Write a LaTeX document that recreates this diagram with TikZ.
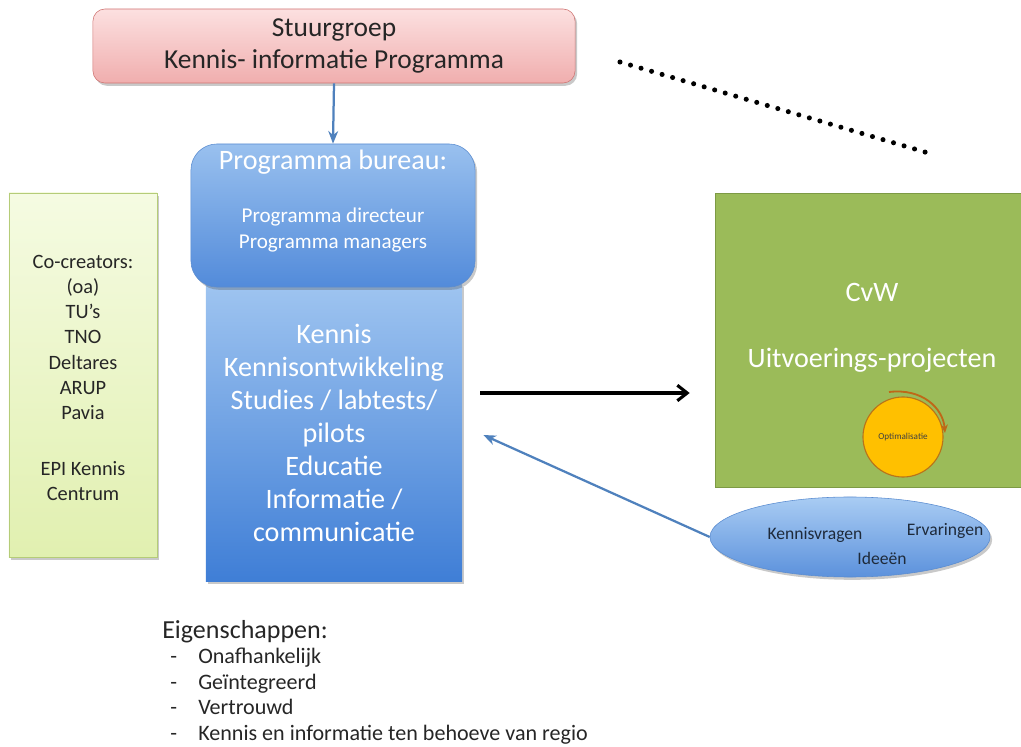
\documentclass[tikz,border=0pt]{standalone}
\usepackage{fontspec}
\setmainfont{Carlito}
\usetikzlibrary{arrows.meta, positioning, shadows, shapes.geometric}

\definecolor{stuurrand}{HTML}{CF7472}
\definecolor{stuurtop}{HTML}{FCE0E0}
\definecolor{stuurbot}{HTML}{F0AEAE}
\definecolor{blauwrand}{HTML}{5A8CD0}
\definecolor{blauwtop}{HTML}{A9CCF3}
\definecolor{blauwbot}{HTML}{3F7ED6}
\definecolor{groenrand}{HTML}{B5CC78}
\definecolor{groentop}{HTML}{F5FBE2}
\definecolor{groenbot}{HTML}{E1F0B0}
\definecolor{cvwgroen}{HTML}{9BBB59}
\definecolor{cvwrand}{HTML}{7D9A45}
\definecolor{optgeel}{HTML}{FFC000}
\definecolor{optrand}{HTML}{B8741A}
\definecolor{pijlblauw}{HTML}{4F81BD}
\definecolor{tekstdonker}{HTML}{1E2A3A}

\tikzset{
  softshadow/.style={drop shadow={shadow xshift=1.5pt, shadow yshift=-2pt, opacity=0.3, fill=black!70}},
  stuurbox/.style={draw=stuurrand, rounded corners=0.3cm, top color=stuurtop, bottom color=stuurbot,
    minimum width=12.05cm, minimum height=1.85cm, align=center, text=black!85,
    font=\fontsize{19.5}{22.5}\selectfont, softshadow},
  bureaubox/.style={draw=blauwrand, rounded corners=0.65cm, top color=blauwtop!85!blauwbot, bottom color=blauwbot!90!white,
    minimum width=7.1cm, minimum height=3.575cm, softshadow},
  kennisbox/.style={draw=none, top color=blauwtop!90!blauwbot, bottom color=blauwbot, minimum width=6.4cm,
    minimum height=7.425cm, align=center, text=white, font=\fontsize{20}{23.5}\selectfont, softshadow},
  cocreatorbox/.style={draw=groenrand, top color=groentop, bottom color=groenbot, minimum width=3.7cm,
    minimum height=9.1cm, align=center, text=black!85, font=\fontsize{14.5}{17.9}\selectfont, softshadow},
  cvwbox/.style={draw=cvwrand, fill=cvwgroen, minimum width=7.75cm, minimum height=7.35cm},
  vragenellipse/.style={ellipse, draw=blauwrand, top color=blauwtop, bottom color=blauwbot!85!white,
    minimum width=7cm, minimum height=2cm, inner sep=0pt, softshadow},
  optcircle/.style={circle, draw=optrand, thick, fill=optgeel, minimum size=2cm, inner sep=0pt,
    font=\fontsize{6.5}{7}\selectfont, text=black!75},
  whitetext/.style={text=white},
  darktext/.style={text=tekstdonker, font=\fontsize{12.5}{14}\selectfont},
  bluearrow/.style={draw=pijlblauw, line width=1.6pt, -{Stealth[length=9pt, width=7pt]}},
  mainarrow/.style={draw=black, line width=2.2pt, -{Straight Barb[length=7pt, width=11pt, line width=2.2pt]}},
  dotline/.style={line width=3.6pt, line cap=round, dash pattern=on 0pt off 7.8pt},
}

\begin{document}
\begin{tikzpicture}[x=0.025cm, y=-0.025cm]
\useasboundingbox (0,0) rectangle (1021,747);

% Stuurgroep bovenaan
\node[stuurbox] (stuur) at (334,46) {Stuurgroep\\Kennis- informatie Programma};

% Kennis blok en programma bureau
\node[kennisbox] (kennis) at (334,433) {Kennis\\Kennisontwikkeling\\Studies / labtests/\\pilots\\Educatie\\Informatie /\\communicatie};
\node[bureaubox] (bureau) at (333,215.5) {};
\node[whitetext, font=\fontsize{20}{23}\selectfont] (bureautitel) at (333,162) {Programma bureau:};
\node[whitetext, align=center, font=\fontsize{15}{18.5}\selectfont] (bureauleden) at (333,230) {Programma directeur\\Programma managers};

% Co-creators links
\node[cocreatorbox] (cocreators) at (83,375) {};
\node[align=center, text=black!85, font=\fontsize{14.5}{17.9}\selectfont] (cocreatortekst) at (83,378) {Co-creators:\\(oa)\\TU's\\TNO\\Deltares\\ARUP\\Pavia\\[22pt]EPI Kennis\\Centrum};

% CvW rechts
\node[cvwbox] (cvw) at (870,340) {};
\node[whitetext, font=\fontsize{20}{23}\selectfont] (cvwnaam) at (872,292) {CvW};
\node[whitetext, font=\fontsize{20}{23}\selectfont] (uitvoering) at (872,360) {Uitvoerings-projecten};
\node[optcircle] (opt) at (903,437) {Optimalisatie};
\coordinate (optstart) at (889,392);
\coordinate (optend) at (945,433);
\draw[draw=optrand!90!red, line width=1.3pt, -{Stealth[length=6pt, width=5pt]}] (optstart) .. controls (922,388) and (943,408) .. (optend);

% Ellips met kennisvragen
\node[vragenellipse] (vragen) at (850,537) {};
\node[darktext] (kennisvragen) at (815,535) {Kennisvragen};
\node[darktext] (ervaringen) at (945,531) {Ervaringen};
\node[darktext] (ideeen) at (882,558) {Ideeën};

% Pijlen
\draw[bluearrow] (stuur.south) -- (bureau.north);
\draw[mainarrow] ([shift={(18,-40)}]kennis.east) -- ([shift={(-25,53)}]cvw.west);
\draw[bluearrow] (vragen.west) -- ([shift={(21,2)}]kennis.east);

% Stippellijn
\coordinate (dotA) at (620,62);
\coordinate (dotB) at (935,155);
\draw[dotline] (dotA) -- (dotB);

% Eigenschappen
\node[anchor=north west, align=left, text=black!85, font=\fontsize{15.7}{18.1}\selectfont, inner sep=0pt] (eigen) at (162,620)
  {{\fontsize{18.5}{18.1}\selectfont Eigenschappen:}\\
   \makebox[0.9cm][l]{\hspace{0.2cm}-}Onafhankelijk\\
   \makebox[0.9cm][l]{\hspace{0.2cm}-}Geïntegreerd\\
   \makebox[0.9cm][l]{\hspace{0.2cm}-}Vertrouwd\\
   \makebox[0.9cm][l]{\hspace{0.2cm}-}Kennis en informatie ten behoeve van regio};
\end{tikzpicture}
\end{document}
